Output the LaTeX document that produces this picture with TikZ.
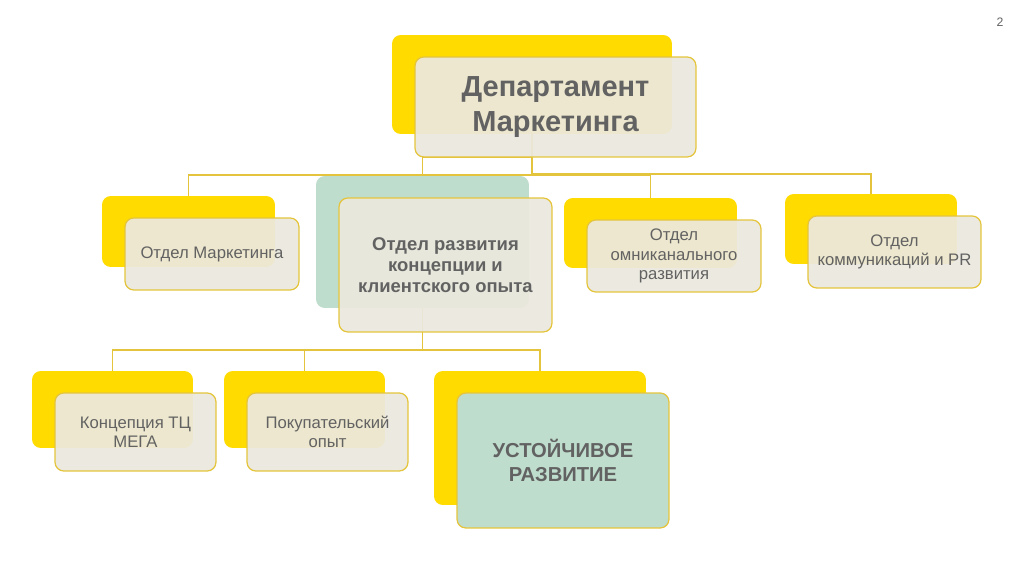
\documentclass[tikz,border=0pt]{standalone}
\usepackage{fontspec}
\setmainfont{Liberation Sans}
\usetikzlibrary{positioning,backgrounds}

\definecolor{mzyellow}{RGB}{255,219,0}
\definecolor{mzbeige}{RGB}{235,232,222}
\definecolor{mzgreen}{RGB}{191,221,205}
\definecolor{mzline}{RGB}{228,196,60}
\definecolor{mztext}{RGB}{98,98,98}

\begin{document}
\begin{tikzpicture}[x=0.02cm, y=-0.02cm]
  \tikzset{
    back/.style={fill=mzyellow, rounded corners=5pt, inner sep=0pt, outer sep=0pt},
    front/.style={fill=mzbeige, fill opacity=0.93, text opacity=1, draw=mzline, line width=0.7pt,
      rounded corners=5pt, inner sep=0pt, outer sep=0pt, align=center, text=mztext,
      below right=0.44cm and 0.46cm of #1.north west},
    small/.style={font=\fontsize{9.5}{11}\selectfont},
    link/.style={draw=mzline, line width=0.6pt}
  }
  \useasboundingbox (0,0) rectangle (1024,574);

  % top level
  \node[back, minimum width=5.6cm, minimum height=1.98cm] (rootback) at (532,84.5) {};
  \node[front=rootback, minimum width=5.62cm, minimum height=2cm,
    font=\fontsize{16.5}{20}\selectfont\bfseries] (root) {Департамент\\Маркетинга};

  % second level
  \node[back, minimum width=3.46cm, minimum height=1.42cm] (mktback) at (188.5,231.5) {};
  \node[front=mktback, small, minimum width=3.48cm, minimum height=1.44cm] (mkt) {Отдел Маркетинга};

  \node[back, fill=mzgreen, minimum width=4.26cm, minimum height=2.64cm] (devback) at (422.5,242) {};
  \node[front=devback, minimum width=4.26cm, minimum height=2.68cm,
    font=\fontsize{10.5}{12}\selectfont\bfseries] (dev) {Отдел развития\\концепции и\\клиентского опыта};

  \node[back, minimum width=3.46cm, minimum height=1.4cm] (omniback) at (650.5,233) {};
  \node[front=omniback, small, minimum width=3.48cm, minimum height=1.44cm] (omni) {Отдел\\омниканального\\развития};

  \node[back, minimum width=3.44cm, minimum height=1.4cm] (prback) at (871,229) {};
  \node[front=prback, small, minimum width=3.46cm, minimum height=1.44cm] (pr) {Отдел\\коммуникаций и PR};

  % third level
  \node[back, minimum width=3.22cm, minimum height=1.54cm] (megaback) at (112.5,409.5) {};
  \node[front=megaback, small, minimum width=3.22cm, minimum height=1.56cm] (mega) {Концепция ТЦ\\МЕГА};

  \node[back, minimum width=3.22cm, minimum height=1.54cm] (buyback) at (304.5,409.5) {};
  \node[front=buyback, small, minimum width=3.22cm, minimum height=1.56cm] (buy) {Покупательский\\опыт};

  \node[back, minimum width=4.24cm, minimum height=2.68cm] (ecoback) at (540,438) {};
  \node[front=ecoback, fill=mzgreen, fill opacity=1, minimum width=4.24cm, minimum height=2.7cm,
    font=\fontsize{11.5}{13.5}\selectfont\bfseries] (eco) {УСТОЙЧИВОЕ\\РАЗВИТИЕ};

  \node[text=mztext, font=\fontsize{7}{8}\selectfont] (page) at (1000,22) {2};

  % connectors behind the boxes
  \begin{scope}[on background layer]
    \draw[link] (rootback.south) -- ++(0,41) -| (mktback.north);
    \draw[link] (rootback.south) -- ++(0,41) -| (omniback.north);
    \draw[link] (rootback.south) -- ++(0,40) -| (prback.north);
    \draw[link] (rootback.south) |- (root.south -| devback.north) -- (devback.north);
    \draw[link] (devback.south) -- ++(0,42) -| (megaback.north);
    \draw[link] (devback.south) -- ++(0,42) -| (buyback.north);
    \draw[link] (devback.south) -- ++(0,42) -| (ecoback.north);
  \end{scope}
\end{tikzpicture}
\end{document}
